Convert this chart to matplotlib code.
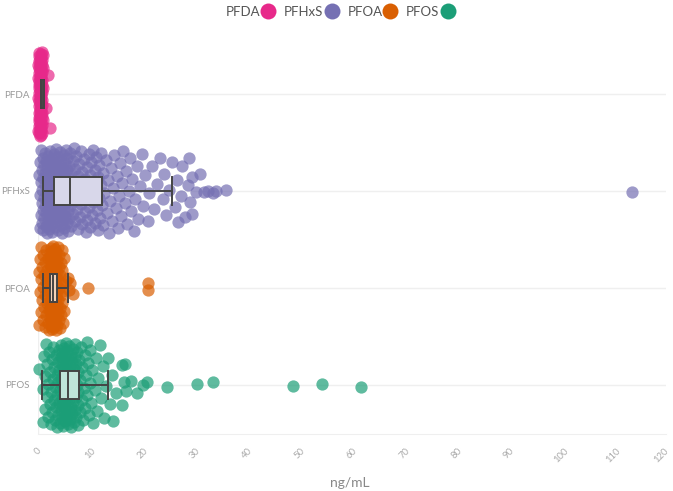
# Horizontal box plots with every sample shown as a jittered point
import numpy as np
import matplotlib
matplotlib.use('Agg')
import matplotlib.pyplot as plt
from matplotlib.lines import Line2D
from matplotlib.transforms import ScaledTranslation

plt.rcParams['font.family'] = ['Lato', 'DejaVu Sans']

categories = ['PFDA', 'PFHxS', 'PFOA', 'PFOS']
colors = ['#e7298a', '#7570b3', '#d95f02', '#1b9e77']
x_ticks = [0, 10, 20, 30, 40, 50, 60, 70, 80, 90, 100, 110, 120]

# sample values (ng/mL)
pfda = [0.12, 0.35, 0.51, 0.08, 0.74, 0.22, 0.63, 0.41, 0.9, 0.17, 0.55, 0.3, 0.68, 0.46, 0.05,
        0.81, 0.27, 0.59, 0.38, 0.72, 0.14, 0.49, 0.86, 0.33, 0.61, 0.2, 0.44, 0.77, 0.1, 0.57,
        0.36, 0.66, 0.25, 0.53, 0.83, 0.4, 0.15, 0.7, 0.48, 0.31, 0.62, 0.06, 0.79, 0.43, 0.24,
        0.58, 0.92, 0.34, 0.65, 0.19, 0.5, 0.73, 0.28, 0.45, 0.11, 0.6, 0.39, 0.84, 0.23, 0.54,
        0.69, 0.32, 0.47, 0.16, 0.76, 0.42, 0.56, 0.29, 0.88, 0.37, 0.64, 0.21, 0.52, 0.71, 0.09,
        1.6, 1.9, 2.2]

pfhxs = [0.4, 1.2, 2.7, 0.9, 1.8, 2.3, 0.6, 3.0, 1.5, 2.1, 0.3, 2.9, 1.1, 1.7, 2.5, 0.8, 1.4,
         2.0, 2.8, 0.5, 1.9, 2.4, 1.0, 1.6, 2.6, 0.7, 1.3, 2.2, 3.1, 0.2, 1.45, 2.05, 2.75, 0.95,
         1.75, 2.35, 0.65, 1.25, 2.95, 1.55, 2.15, 0.85, 1.85, 2.45, 1.05, 2.65, 0.45, 1.35, 2.25,
         2.85, 1.65, 0.75, 1.95, 2.55, 1.15,
         3.3, 4.8, 5.9, 3.7, 5.2, 4.1, 6.0, 3.5, 4.5, 5.6, 3.9, 4.9, 5.4, 3.2, 4.3, 5.8, 3.6, 4.7,
         5.1, 6.1, 3.4, 4.0, 5.5, 4.4, 3.8, 5.0, 5.7, 4.2, 3.55, 4.65, 5.35, 3.95, 4.85, 5.95, 3.25,
         4.15, 5.25, 4.55, 3.75, 5.65, 4.35, 3.45, 5.05, 4.95, 5.45, 3.85, 4.25, 5.85, 3.15, 4.75,
         5.15, 3.65, 4.05, 5.55, 6.15,
         6.5, 8.9, 11.2, 7.3, 9.8, 6.9, 10.5, 8.1, 12.0, 7.7, 9.4, 11.7, 6.3, 8.5, 10.1, 7.0, 9.1,
         11.5, 8.3, 10.8, 6.7, 9.6, 12.2, 7.5, 8.7, 10.3, 11.0, 7.9, 9.3, 6.4, 10.6, 8.0, 11.9, 7.2,
         9.9, 6.8, 8.6, 10.9, 7.6, 11.4, 9.0, 6.6, 10.2, 8.4, 12.1, 7.1, 9.7, 11.1, 8.2, 10.4, 6.95,
         9.2, 11.6, 7.8, 10.0,
         12.5, 13.8, 15.2, 16.9, 18.4, 12.9, 14.6, 17.5, 19.8, 13.3, 15.9, 21.0, 14.1, 16.3, 18.9,
         12.7, 15.5, 20.4, 13.6, 17.1, 19.2, 14.9, 16.6, 21.7, 13.1, 18.0, 15.0, 20.0, 14.4, 17.8,
         12.4, 16.0, 19.5, 13.9, 21.3, 15.7, 18.6, 17.3,
         22.1, 22.8, 23.4, 23.9, 24.5, 25.0, 25.6, 26.2, 26.8, 27.3, 27.6, 28.1, 28.7, 28.9, 29.0,
         29.4, 29.4, 30.2, 31.0, 31.7, 32.5, 33.5, 34.0, 36.0, 24.1, 26.5,
         113.5]

pfoa = [0.2, 0.8, 1.5, 2.1, 0.5, 1.2, 1.9, 0.3, 1.0, 1.7, 2.2, 0.6, 1.4, 2.0, 0.9, 1.6, 0.4, 1.1,
        1.8, 2.3, 0.7, 1.3, 0.15, 1.55, 2.15, 0.95, 1.85, 0.55, 1.25, 2.05,
        2.42, 2.71, 2.55, 2.33, 2.66, 2.48, 2.79, 2.38, 2.6, 2.52, 2.74, 2.45, 2.31, 2.68, 2.57,
        2.4, 2.77, 2.5, 2.63, 2.36, 2.72, 2.44, 2.59, 2.34, 2.69, 2.53, 2.78, 2.47, 2.62, 2.39,
        2.85, 3.2, 3.5, 2.95, 3.35, 3.05, 3.45, 2.9, 3.15, 3.55, 3.0, 3.3, 3.4, 2.88, 3.1, 3.25,
        3.58, 2.98, 3.38, 3.12, 3.48, 2.83, 3.22, 3.52, 3.02, 3.32, 3.42, 2.92, 3.18, 3.28,
        3.7, 4.1, 4.6, 3.9, 4.3, 5.0, 3.65, 4.0, 4.4, 4.8, 3.8, 4.2, 4.7, 3.75, 4.5, 5.3, 3.85,
        4.15, 4.9, 3.95, 4.35, 5.7, 4.05, 4.55, 6.6, 4.25, 5.9, 6.2, 3.68, 4.45,
        9.5, 21.0, 21.1]

pfos = [0.9, 2.5, 3.8, 1.6, 3.1, 4.0, 1.2, 2.8, 3.5, 2.0, 3.9, 1.4, 2.6, 3.3, 1.9, 3.7, 2.2, 3.0,
        4.1, 1.0, 2.9, 3.6, 1.7, 2.4, 3.4, 1.3, 3.95, 2.7, 3.2, 1.8, 2.1, 3.85, 2.3, 3.55, 0.1,
        4.3, 5.1, 4.7, 5.5, 4.4, 5.0, 4.9, 5.3, 4.5, 5.6, 4.25, 4.8, 5.2, 4.6, 5.45, 4.35, 5.05,
        4.75, 5.35, 4.55, 5.65, 4.45, 4.95, 5.25, 4.65, 5.15, 4.85, 5.55, 4.28, 5.4, 4.62, 5.08,
        4.92, 5.32, 4.5,
        5.8, 6.9, 7.5, 6.2, 7.1, 6.6, 7.7, 5.9, 6.4, 7.3, 6.0, 6.8, 7.6, 6.3, 7.0, 5.75, 6.5, 7.4,
        6.1, 6.7, 7.2, 5.85, 6.35, 7.55, 6.85, 6.15, 7.05, 6.55, 7.35, 5.95, 6.75, 7.65, 6.25,
        7.15, 6.45,
        7.9, 8.6, 9.4, 10.3, 11.5, 8.2, 9.0, 9.9, 12.1, 8.4, 10.8, 13.0, 8.8, 9.6, 11.0, 8.1, 10.0,
        12.6, 9.2, 8.5, 10.6, 13.4, 9.8, 11.8, 8.0, 9.3, 12.4, 10.2, 8.9, 11.3,
        13.8, 14.1, 14.3, 14.9, 16.0, 16.0, 16.5, 16.6, 16.8, 17.7, 19.0, 20.0, 20.8, 24.6, 30.3,
        33.5, 48.7, 54.3, 61.7]

# box statistics
box_whislo = [0.5, 0.9, 0.9, 0.8]
box_q1 = [0.5, 3.1, 2.3, 4.2]
box_med = [0.8, 6.2, 2.8, 5.7]
box_q3 = [1.1, 12.3, 3.6, 7.8]
box_whishi = [1.1, 25.7, 5.7, 13.4]

series = [pfda, pfhxs, pfoa, pfos]


def density_jitter(vals, width=0.44, count=5, min_spread=0.5, full=2.5):
    # spread points more where they are packed, less where they are sparse
    v = np.asarray(vals, float)
    order = np.argsort(v, kind='stable')
    s = v[order]
    n = len(s)
    jf = np.zeros(n)
    for i in range(n):
        i0 = max(0, i - count)
        i1 = min(n - 1, i + count)
        d = (i1 - i0) / (s[i1] - s[i0] + min_spread)
        jf[i] = min(1.0, d / full)
    u = 2 * ((np.arange(n) * 0.6180339887 + 0.31) % 1.0) - 1
    off = np.empty(n)
    off[order] = jf * width * u
    return off


def lighten(c, a):
    rgb = np.array(matplotlib.colors.to_rgb(c))
    return tuple(rgb * a + (1 - a))


fig = plt.figure(figsize=(6.73, 4.91), dpi=100)
ax = fig.add_axes([38 / 673, 1 - 433.5 / 491, 628 / 673, 388 / 491])

for i, (vals, c) in enumerate(zip(series, colors)):
    y = i + density_jitter(vals)
    ax.scatter(vals, y, s=78, color=c, alpha=0.7, linewidths=0, zorder=2, clip_on=False)

stats = []
for i in range(len(categories)):
    stats.append(dict(whislo=box_whislo[i], q1=box_q1[i], med=box_med[i],
                      q3=box_q3[i], whishi=box_whishi[i], fliers=[]))

bp = ax.bxp(stats, positions=range(len(categories)), orientation='horizontal',
            widths=0.28, capwidths=0.28, patch_artist=True, showfliers=False,
            boxprops=dict(edgecolor='#444444', linewidth=1.4),
            medianprops=dict(color='#444444', linewidth=1.4),
            whiskerprops=dict(color='#444444', linewidth=1.4),
            capprops=dict(color='#444444', linewidth=1.4), zorder=3)
for patch, c in zip(bp['boxes'], colors):
    patch.set_facecolor(lighten(c, 0.28))

for i in range(len(categories)):
    ax.axhline(i, color='#efefef', lw=1, zorder=0)
ax.axvline(0, color='#efefef', lw=1, zorder=0)

ax.set_xlim(0, 120)
ax.set_ylim(3.5, -0.5)
ax.set_xticks(x_ticks)
ax.set_xticklabels([])
# x tick labels drawn as text so the last one can be nudged inside the figure
xt = ax.get_xaxis_transform()
for t in x_ticks:
    shift = -0.05 if t == x_ticks[-1] else 0
    ax.text(t, 0, str(t), rotation=45, ha='center', va='top', fontsize=6.8, color='#aaaaaa',
            transform=xt + ScaledTranslation(shift, -0.13, fig.dpi_scale_trans))
ax.set_yticks(range(len(categories)))
ax.set_yticklabels(categories, fontsize=7, color='#999999')
ax.tick_params(axis='both', length=0)
ax.tick_params(axis='y', pad=6)
for side in ['top', 'left', 'right']:
    ax.spines[side].set_visible(False)
ax.spines['bottom'].set_color('#efefef')

fig.text(350 / 673, 1 - 483 / 491, 'ng/mL', ha='center', va='center', fontsize=10, color='#888888')

handles = [Line2D([], [], marker='o', linestyle='', markersize=11.5,
                  markerfacecolor=c, markeredgewidth=0) for c in colors]
fig.legend(handles, categories, ncol=4, markerfirst=False, loc='center',
           bbox_to_anchor=(340 / 673, 1 - 12 / 491), frameon=False, fontsize=9.5,
           handletextpad=0.1, columnspacing=0.7, handlelength=1.0, labelcolor='#555555')

fig.savefig('out.png', dpi=100)
